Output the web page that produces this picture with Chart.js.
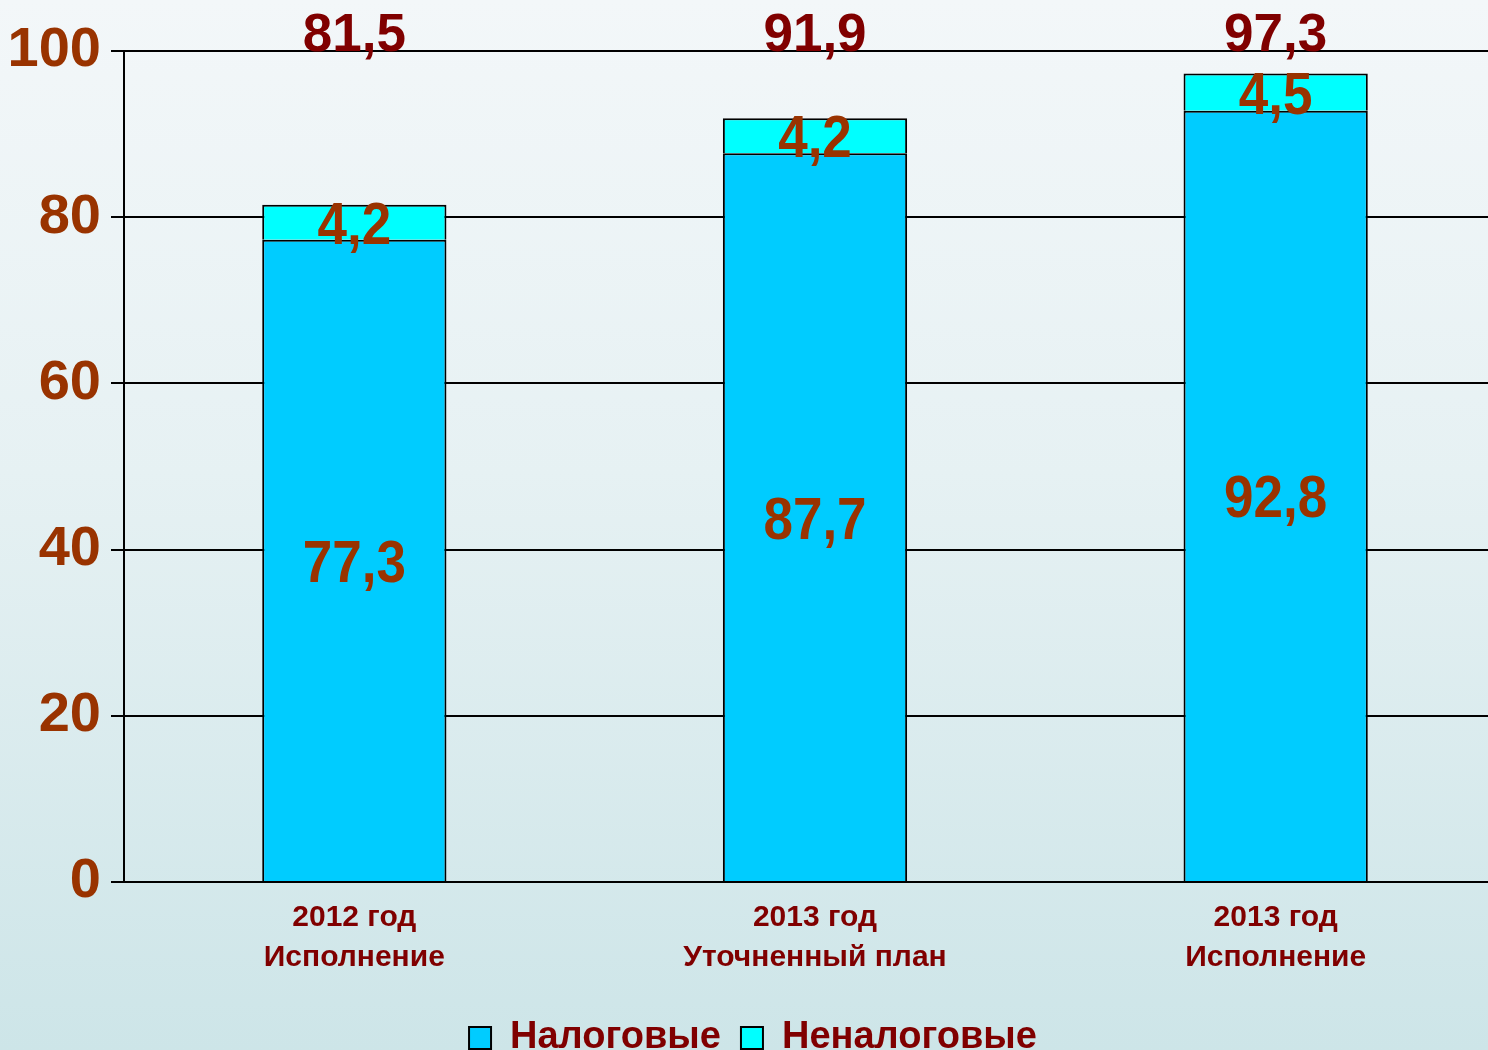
<!DOCTYPE html>
<html>
<head>
<meta charset="utf-8">
<script src="https://cdn.jsdelivr.net/npm/chart.js@4"></script>
<style>
  html, body {
    margin: 0;
    padding: 0;
    width: 1488px;
    height: 1050px;
    overflow: hidden;
    background: linear-gradient(to bottom, #f3f7f9 0%, #e6f1f3 45%, #cde5e8 100%);
  }
  canvas { display: block; }
</style>
</head>
<body>
<canvas id="chart-revenue" width="1506" height="1067"></canvas>
<script>
const categories = [
  ["2012 год", "Исполнение"],
  ["2013 год", "Уточненный план"],
  ["2013 год", "Исполнение"],
];
const taxRevenue = [77.3, 87.7, 92.8];
const nonTaxRevenue = [4.2, 4.2, 4.5];
const totals = [81.5, 91.9, 97.3];

const FONT = '"Liberation Sans", Arial, sans-serif';
const fmt = (v) => v.toFixed(1).replace(".", ",");

// подписи внутри столбцов и итоги сверху
const labelsPlugin = {
  id: "barLabels",
  afterDatasetsDraw(chart) {
    const ctx = chart.ctx;
    const stretch = 1.13;
    ctx.save();
    ctx.textAlign = "center";
    ctx.textBaseline = "middle";
    ctx.fillStyle = "#993300";
    ctx.font = `bold 53px ${FONT}`;
    chart.data.datasets.forEach((ds, i) => {
      const meta = chart.getDatasetMeta(i);
      meta.data.forEach((bar, j) => {
        const cy = (bar.y + bar.base) / 2 + 5;
        ctx.save();
        ctx.translate(bar.x, cy);
        ctx.scale(1, stretch);
        ctx.fillText(fmt(ds.data[j]), 0, 0);
        ctx.restore();
      });
    });
    ctx.fillStyle = "#800000";
    ctx.font = `bold 53px ${FONT}`;
    const meta0 = chart.getDatasetMeta(0);
    meta0.data.forEach((bar, j) => {
      ctx.fillText(fmt(totals[j]), bar.x, chart.chartArea.top - 15);
    });
    ctx.restore();
  },
};

const ctx = document.getElementById("chart-revenue").getContext("2d");
new Chart(ctx, {
  type: "bar",
  data: {
    labels: categories,
    datasets: [
      {
        label: "Налоговые",
        data: taxRevenue,
        backgroundColor: "#00ccff",
        borderColor: "#000000",
        borderWidth: 2,
      },
      {
        label: "Неналоговые",
        data: nonTaxRevenue,
        backgroundColor: "#00ffff",
        borderColor: "#000000",
        borderWidth: 2,
      },
    ],
  },
  options: {
    responsive: false,
    devicePixelRatio: 1,
    animation: false,
    layout: {
      padding: { top: 51, right: 0, left: 0, bottom: 0 },
    },
    datasets: {
      bar: { categoryPercentage: 1, barPercentage: 0.4 },
    },
    scales: {
      x: {
        stacked: true,
        grid: { display: false, drawTicks: false },
        border: { display: true, color: "#000000", width: 2 },
        ticks: {
          padding: 16,
          color: "#800000",
          font: { family: FONT, size: 30, weight: "bold", lineHeight: 1.333 },
          maxRotation: 0,
        },
        afterFit(scale) {
          scale.height += 5;
        },
      },
      y: {
        stacked: true,
        min: 0,
        max: 100,
        ticks: {
          stepSize: 20,
          padding: 10,
          color: "#993300",
          font: { family: FONT, size: 56, weight: "bold" },
        },
        grid: { color: "#000000", lineWidth: 2, tickLength: 13 },
        border: { display: true, color: "#000000", width: 2 },
        afterFit(scale) {
          scale.width = 124;
        },
      },
    },
    plugins: {
      tooltip: { enabled: false },
      legend: {
        position: "bottom",
        labels: {
          boxWidth: 22,
          boxHeight: 22,
          padding: 20,
          color: "#800000",
          font: { family: FONT, size: 38, weight: "bold" },
        },
      },
    },
  },
  plugins: [labelsPlugin],
});
</script>
</body>
</html>
